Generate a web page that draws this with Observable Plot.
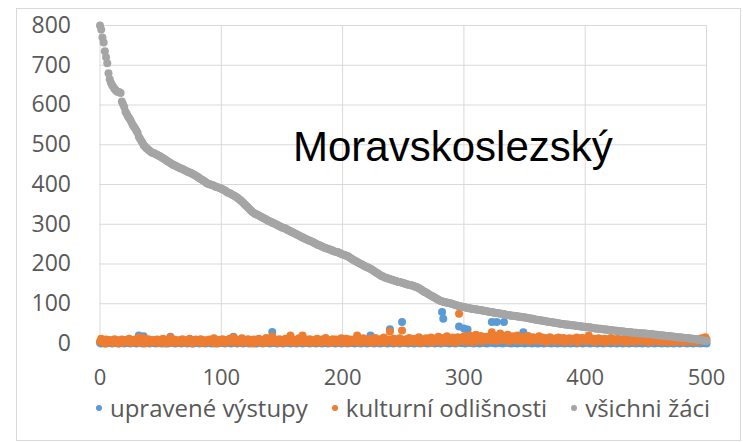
<!DOCTYPE html>
<html>
<head>
<meta charset="utf-8">
<script src="https://cdn.jsdelivr.net/npm/d3@7"></script>
<script src="https://cdn.jsdelivr.net/npm/@observablehq/plot@0.6"></script>
<style>
  html, body { margin: 0; padding: 0; background: #fff; }
  body { width: 743px; height: 442px; position: relative; overflow: hidden; }
  #frame { position: absolute; left: 16px; top: 8px; width: 725px; height: 433px; border: 1px solid #d9d9d9; box-sizing: border-box; }
  #chart { position: absolute; left: 0; top: 0; }
  #title { position: absolute; left: 293px; top: 126px; font: 42px/42px "Liberation Sans", Arial, sans-serif; color: #000; white-space: nowrap; }
  #legend { position: absolute; left: 0; width: 806px; top: 396px; display: flex; justify-content: center; align-items: center; font: 24px/24px "Open Sans", sans-serif; color: #595959; white-space: nowrap; }
  .item { display: flex; align-items: center; margin: 0 12px; }
  .mk { width: 6px; height: 6px; border-radius: 50%; margin-right: 8px; }
</style>
</head>
<body>
<div id="frame"></div>
<div id="chart"></div>
<div id="title">Moravskoslezský</div>
<div id="legend"></div>
<script>
const seriesNames = ["upravené výstupy", "kulturní odlišnosti", "všichni žáci"];
const seriesColors = ["#5B9BD5", "#ED7D31", "#A5A5A5"];
const xTicks = [0, 100, 200, 300, 400, 500];
const yTicks = [0, 100, 200, 300, 400, 500, 600, 700, 800];

// všichni žáci (ranked, index = position)
const vsichni = [
800,790,770,757,735,720,705,680,665,656,
650,645,640,637,634,633,632,630,609,602,
595,583,578,572,567,562,556,550,545,541,
535,530,520,515,510,505,499,496,492,490,
487,485,482,480,479,478,476,475,473,472,
470,468,466,464,462,460,458,456,454,452,
450,449,447,446,444,443,441,440,439,437,
436,434,433,431,430,429,427,425,424,422,
420,418,416,414,412,410,408,406,403,402,
401,400,399,398,397,395,394,393,392,391,
389,388,386,385,383,380,379,378,376,374,
373,371,369,367,365,362,360,357,354,351,
348,345,342,339,336,333,330,328,326,325,
323,322,320,318,317,315,314,312,310,308,
307,306,304,303,301,300,298,297,295,294,
292,291,290,289,287,285,284,282,281,279,
278,276,275,273,272,270,268,267,265,264,
262,261,260,258,257,256,254,253,251,249,
248,247,245,244,243,241,240,239,238,237,
236,235,233,232,231,230,230,228,227,225,
224,223,222,221,220,218,216,214,212,210,
208,207,205,203,202,200,199,197,195,194,
192,191,189,188,186,184,182,180,178,176,
174,172,170,169,167,166,165,164,163,162,
161,160,159,158,157,156,155,155,154,153,
152,151,150,149,148,148,147,146,145,144,
143,142,140,139,137,135,133,131,129,128,
126,124,122,120,119,117,115,113,112,110,
108,107,106,105,104,104,103,102,101,101,
100,99,98,97,96,95,94,94,93,92,
92,91,90,89,89,88,88,87,87,86,
86,85,85,84,84,83,83,82,82,81,
80,80,79,79,78,78,77,77,76,76,
75,75,74,74,73,72,72,71,71,70,
70,70,69,69,68,68,67,67,66,66,
66,65,65,64,63,63,62,62,61,60,
60,59,59,58,58,57,57,56,56,55,
55,54,54,53,53,52,52,51,51,50,
50,49,49,48,48,48,47,47,46,46,
46,45,45,44,44,44,43,43,42,42,
42,41,41,41,40,40,39,39,38,38,
38,37,37,37,36,36,35,35,35,34,
34,34,33,33,33,32,32,31,31,31,
30,30,30,29,29,29,28,28,28,27,
27,27,27,26,26,26,26,25,25,25,
25,24,24,24,23,23,23,22,22,22,
21,21,21,20,20,20,19,19,19,18,
18,18,17,17,17,16,16,16,15,15,
15,14,14,14,13,13,13,12,12,12,
11,11,10,10,9,9,8,8,7,7,
6];

// kulturní odlišnosti
const kulturni = [
5,12,3,8,0,10,6,2,9,4,
7,1,11,5,3,8,0,6,10,2,
4,9,7,3,12,5,1,8,6,10,
3,7,15,2,9,5,14,0,6,8,
11,4,2,7,9,3,6,10,1,5,
8,3,12,6,0,9,4,7,15,2,
6,10,3,8,5,1,9,4,11,7,
2,6,9,3,12,5,0,8,4,10,
7,3,6,11,1,9,5,2,8,4,
10,6,3,7,13,0,5,9,2,8,
4,11,6,1,9,3,7,12,5,8,
15,2,6,10,4,8,1,13,7,3,
9,5,11,2,6,8,0,10,4,7,
3,12,6,9,1,5,8,14,2,7,
10,4,18,6,3,9,7,1,11,5,
8,2,6,12,4,9,7,20,3,10,
5,1,8,6,13,3,9,20,7,2,
10,6,4,11,8,1,5,9,3,12,
7,2,6,10,4,8,14,3,9,5,
1,7,11,6,3,10,8,2,5,13,
9,4,7,12,1,6,10,3,8,5,
11,7,20,2,9,6,4,13,8,3,
10,5,7,12,1,9,6,14,4,8,
3,11,7,5,15,2,9,6,10,30,
8,4,12,6,1,10,7,13,3,33,
9,5,11,2,8,14,6,4,10,7,
12,3,9,16,5,1,8,11,6,13,
4,10,7,15,2,9,12,5,8,17,
6,11,3,14,9,7,18,4,12,10,
5,15,8,2,11,16,75,9,6,13,
18,4,10,15,7,20,12,3,16,9,
22,6,14,11,19,5,13,8,17,10,
15,7,12,28,9,18,14,6,20,11,
25,16,8,13,19,10,22,5,15,12,
18,9,14,7,20,11,16,6,13,10,
17,8,12,19,5,14,9,16,11,7,
13,10,18,6,12,15,8,11,4,14,
9,16,7,12,10,5,13,8,15,6,
11,9,14,4,12,7,10,13,5,8,
12,6,9,15,3,11,8,14,7,10,
13,5,9,20,6,11,8,12,4,10,
7,13,9,5,11,8,12,3,10,6,
9,14,7,11,4,10,8,12,6,9,
5,11,8,13,3,10,7,12,9,6,
10,4,8,11,7,13,5,9,12,6,
8,10,3,11,7,9,12,5,8,10,
6,11,4,9,7,12,5,8,10,3,
9,6,11,7,4,10,8,5,12,6,
9,3,10,7,11,5,8,12,6,9,
4,10,7,11,5,8,13,6,9,16,
10];

// upravené výstupy
const upravene = [
2,0,4,1,3,0,5,2,1,3,
0,4,2,1,5,0,3,2,1,4,
0,2,3,1,5,0,2,4,1,3,
0,2,20,1,4,0,18,2,3,1,
5,0,2,4,1,3,0,2,5,1,
3,0,4,2,1,5,0,3,17,2,
1,4,0,2,3,1,5,0,2,4,
1,3,0,2,5,1,4,0,3,2,
1,5,0,3,2,4,1,0,3,2,
5,1,0,4,2,3,1,0,5,2,
3,1,4,0,2,5,1,3,0,2,
17,1,3,0,5,2,4,1,0,3,
2,5,1,0,4,3,2,1,5,0,
3,2,4,1,0,5,2,3,1,4,
0,2,29,1,3,5,0,4,2,1,
3,0,5,2,4,1,3,0,2,5,
1,4,0,3,2,5,1,0,4,2,
3,1,5,0,2,4,1,3,0,5,
2,1,4,0,3,2,5,1,0,4,
2,3,1,5,0,4,2,1,3,0,
5,2,4,1,0,3,2,5,1,4,
0,3,2,1,5,0,4,2,3,1,
0,5,2,20,1,4,0,3,2,5,
1,0,4,2,3,1,5,0,2,36,
1,3,0,5,2,4,1,0,3,54,
2,5,1,4,0,3,2,1,5,0,
4,2,3,1,0,5,2,4,1,3,
0,2,5,1,4,3,0,2,1,5,
3,0,79,62,2,4,1,5,0,3,
2,1,4,0,5,3,43,2,1,4,
38,0,3,35,2,5,1,4,0,3,
2,5,1,0,4,3,2,1,5,0,
3,2,4,54,1,5,0,54,3,2,
4,1,0,54,3,2,5,1,4,0,
2,3,1,5,0,4,2,3,1,28,
0,5,2,4,1,3,0,2,5,1,
4,0,3,2,1,5,0,4,2,3,
1,5,0,2,4,3,1,0,5,2,
3,1,4,0,2,5,1,3,0,4,
2,1,5,0,3,4,2,1,0,5,
3,2,4,1,0,5,2,3,1,4,
0,2,5,1,3,0,4,2,1,5,
3,0,2,4,1,5,0,3,2,1,
4,0,5,2,3,1,0,4,2,5,
1,3,0,2,4,1,5,0,3,2,
1,4,0,5,2,3,1,0,4,2,
5,1,3,0,2,4,1,5,0,3,
2,1,4,0,3,5,2,1,0,4,
3,2,5,1,0,4,2,3,1,0,
5,2,4,1,3,0,2,5,1,3,
0];

const allSeries = [upravene, kulturni, vsichni];
const rows = [];
allSeries.forEach((vals, s) => vals.forEach((v, i) => rows.push({x: i, y: v, s: seriesNames[s]})));

const plot = Plot.plot({
  width: 743,
  height: 395,
  marginLeft: 99.5,
  marginRight: 37,
  marginTop: 25,
  marginBottom: 52,
  style: {fontFamily: "'Open Sans', sans-serif", color: "#595959", background: "transparent", overflow: "visible"},
  x: {domain: [0, 500]},
  y: {domain: [0, 800]},
  color: {domain: seriesNames, range: seriesColors},
  marks: [
    Plot.gridX(xTicks, {stroke: "#d9d9d9", strokeOpacity: 1, strokeWidth: 1}),
    Plot.gridY(yTicks, {stroke: "#d9d9d9", strokeOpacity: 1, strokeWidth: 1}),
    Plot.dot(rows, {x: "x", y: "y", fill: "s", r: 4}),
    Plot.axisX(xTicks, {tickSize: 0, tickPadding: 26, fontSize: 22, label: null}),
    Plot.axisY(yTicks, {tickSize: 0, tickPadding: 29, fontSize: 23, label: null})
  ]
});
document.getElementById("chart").appendChild(plot);

const legend = document.getElementById("legend");
seriesNames.forEach((name, i) => {
  const item = document.createElement("div");
  item.className = "item";
  const mk = document.createElement("span");
  mk.className = "mk";
  mk.style.background = seriesColors[i];
  const tx = document.createElement("span");
  tx.textContent = name;
  item.appendChild(mk);
  item.appendChild(tx);
  legend.appendChild(item);
});
</script>
</body>
</html>
